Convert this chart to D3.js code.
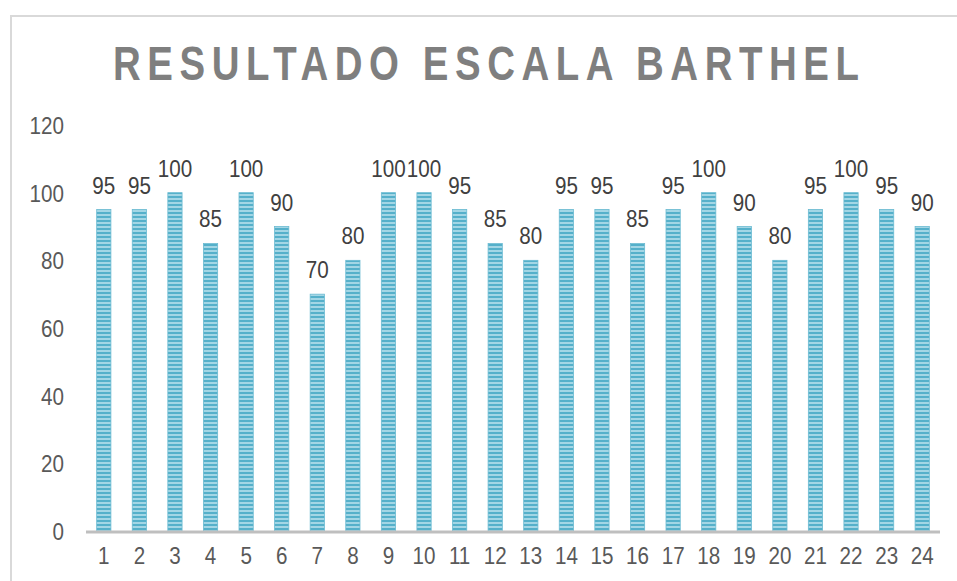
<!DOCTYPE html>
<html>
<head>
<meta charset="utf-8">
<script src="https://cdn.jsdelivr.net/npm/d3@7"></script>
<style>
	body { margin: 0; background: #fff; }
	svg { display: block; }
</style>
</head>
<body>
<div id="chart"></div>
<script>
var title = 'RESULTADO ESCALA BARTHEL';
var patients = ['1','2','3','4','5','6','7','8','9','10','11','12','13','14','15','16','17','18','19','20','21','22','23','24'];
var scores = [95, 95, 100, 85, 100, 90, 70, 80, 100, 100, 95, 85, 80, 95, 95, 85, 95, 100, 90, 80, 95, 100, 95, 90];
var yTicks = [0, 20, 40, 60, 80, 100, 120];

var width = 957, height = 581;
var plotLeft = 86, plotRight = 940, plotTop = 125, plotBottom = 531;
var font = 'Liberation Sans, Arial, sans-serif';
var squeeze = 0.86; // narrow the glyphs a bit, the original font is condensed

var svg = d3.select('#chart').append('svg')
	.attr('width', width)
	.attr('height', height);

function at(px, py) {
	return 'translate(' + px + ',' + py + ') scale(' + squeeze + ',1)';
}

// striped fill like the original bars
var defs = svg.append('defs');
var pat = defs.append('pattern')
	.attr('id', 'stripes')
	.attr('patternUnits', 'userSpaceOnUse')
	.attr('width', 8).attr('height', 4);
pat.append('rect').attr('width', 8).attr('height', 4).attr('fill', '#a3d6e5');
pat.append('rect').attr('width', 8).attr('height', 2).attr('fill', '#55b0ca');

// frame (cropped chart box)
svg.append('path')
	.attr('d', 'M11,' + height + ' V16 H' + width)
	.attr('fill', 'none')
	.attr('stroke', '#d9d9d9')
	.attr('stroke-width', 2);

var x = d3.scaleBand().domain(patients).range([plotLeft, plotRight]).paddingInner(0.6).paddingOuter(0.3);
var y = d3.scaleLinear().domain([0, 120]).range([plotBottom, plotTop]);

svg.append('text')
	.attr('transform', 'translate(486,80) scale(0.8,1)')
	.attr('text-anchor', 'middle')
	.attr('font-family', font)
	.attr('font-weight', 'bold')
	.attr('font-size', 48)
	.attr('fill', '#7f7f7f')
	.attr('textLength', 746 / 0.8)
	.attr('lengthAdjust', 'spacing')
	.text(title);

// y labels
svg.append('g').selectAll('text')
	.data(yTicks)
	.join('text')
	.attr('transform', function(d) { return at(64, y(d) + 9); })
	.attr('text-anchor', 'end')
	.attr('font-family', font)
	.attr('font-size', 24)
	.attr('fill', '#595959')
	.text(function(d) { return d; });

var bars = svg.append('g');

bars.selectAll('rect')
	.data(scores)
	.join('rect')
	.attr('x', function(d, i) { return x(patients[i]); })
	.attr('y', function(d) { return y(d); })
	.attr('width', x.bandwidth())
	.attr('height', function(d) { return y(0) - y(d); })
	.attr('fill', 'url(#stripes)')
	.attr('stroke', '#6bbbd2')
	.attr('stroke-width', 0.8);

bars.selectAll('text')
	.data(scores)
	.join('text')
	.attr('transform', function(d, i) { return at(x(patients[i]) + x.bandwidth() / 2, y(d) - 16); })
	.attr('text-anchor', 'middle')
	.attr('font-family', font)
	.attr('font-size', 24)
	.attr('fill', '#404040')
	.text(function(d) { return d; });

// x axis
svg.append('line')
	.attr('x1', plotLeft).attr('x2', plotRight)
	.attr('y1', plotBottom + 1).attr('y2', plotBottom + 1)
	.attr('stroke', '#bfbfbf')
	.attr('stroke-width', 3);

svg.append('g').selectAll('text')
	.data(patients)
	.join('text')
	.attr('transform', function(d) { return at(x(d) + x.bandwidth() / 2, 564); })
	.attr('text-anchor', 'middle')
	.attr('font-family', font)
	.attr('font-size', 24)
	.attr('fill', '#595959')
	.text(function(d) { return d; });
</script>
</body>
</html>
